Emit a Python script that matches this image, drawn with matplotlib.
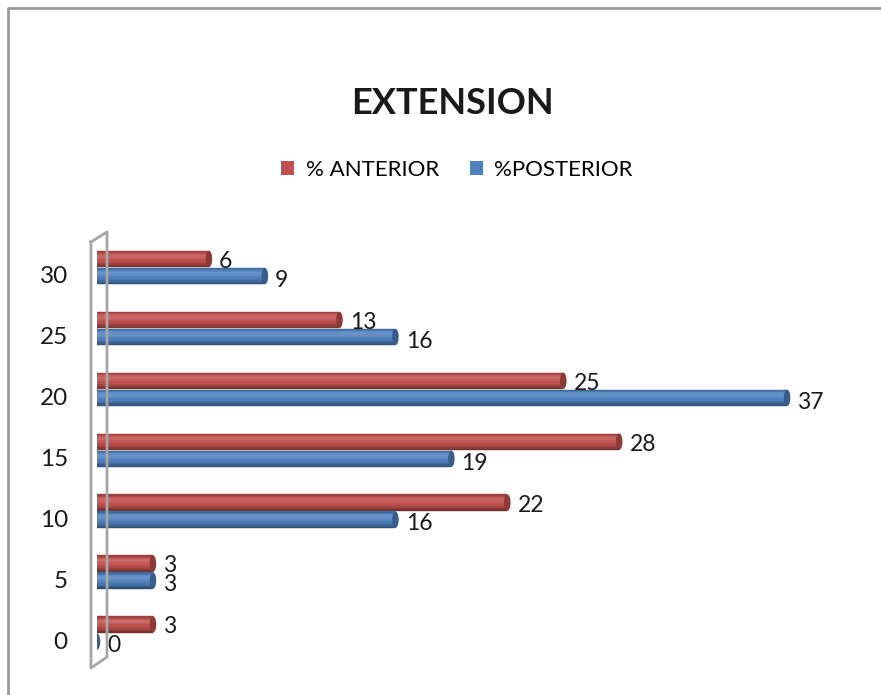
import matplotlib.pyplot as plt
import numpy as np
from matplotlib.patches import Ellipse, Patch
from matplotlib.lines import Line2D

categories = ["0", "5", "10", "15", "20", "25", "30"]
anterior = [3, 3, 22, 28, 25, 13, 6]
posterior = [0, 3, 16, 19, 37, 16, 9]
series_names = ["% ANTERIOR", "%POSTERIOR"]

RED = np.array([192, 80, 77]) / 255
BLUE = np.array([79, 129, 189]) / 255
W, H = 881, 695

plt.rcParams["font.family"] = ["Lato", "DejaVu Sans"]

fig = plt.figure(figsize=(W / 100, H / 100), dpi=100)
ax = fig.add_axes([97 / W, 1 - 669.5 / H, 746 / W, (669.5 - 231) / H])

# shading across the bar height, bottom -> top, to fake a cylinder
profile = [0.6, 0.72, 0.82, 0.9, 0.97, 1.0, 1.06, 1.12, 1.16, 1.1, 0.98, 0.82]
bar_h = 0.27
cap_w = 0.35


def shade(c, f):
    if f >= 1:
        return c + (1 - c) * (f - 1)
    return c * f


def cylinder(y, value, color):
    n = len(profile)
    dh = bar_h / n
    if value > 0:
        for k, f in enumerate(profile):
            col = shade(color, f)
            ax.barh(y - bar_h / 2 + dh * (k + 0.5), value, height=dh, left=0,
                    color=col, edgecolor=col, linewidth=0.3)
    ax.add_patch(Ellipse((value, y), cap_w, bar_h, facecolor=shade(color, 0.72),
                         edgecolor="none", zorder=3))


ypos = np.arange(len(categories))
for i in ypos:
    ya = i + 0.14
    yp = i - 0.14
    cylinder(ya, anterior[i], RED)
    cylinder(yp, posterior[i], BLUE)
    ax.text(anterior[i] + 0.55, ya - 0.04, str(anterior[i]), va="center",
            ha="left", fontsize=16.5, color="#1a1a1a")
    ax.text(posterior[i] + 0.55, yp - 0.07, str(posterior[i]), va="center",
            ha="left", fontsize=16.5, color="#1a1a1a")

ax.set_xlim(0, 40)
ax.set_ylim(-0.6, 6.6)
ax.set_yticks(ypos - 0.12)
ax.set_yticklabels(categories, fontsize=17.5, color="#1a1a1a")
ax.tick_params(axis="y", length=0, pad=21)
ax.set_xticks([])
for s in ax.spines.values():
    s.set_visible(False)
ax.patch.set_alpha(0)


def fig_line(xs, ys, **kw):
    fig.add_artist(Line2D([x / W for x in xs], [1 - y / H for y in ys],
                          transform=fig.transFigure, **kw))


# side wall of the 3d chart
wall = dict(color="#a6a6a6", linewidth=2)
fig_line([91, 91, 107, 107, 91], [242, 668, 657, 232, 242], **wall)
# outer chart border
fig_line([881, 8, 8], [8, 8, 695], color="#9a9a9a", linewidth=2)

fig.text(452 / W, 1 - 104 / H, "EXTENSION", ha="center", va="center",
         fontsize=26, fontweight="bold", color="#1a1a1a")

handles = [Patch(facecolor=RED), Patch(facecolor=BLUE)]
fig.legend(handles, series_names, loc="center", bbox_to_anchor=(457 / W, 1 - 170 / H),
           ncol=2, frameon=False, fontsize=16, handlelength=0.6, handleheight=0.6,
           handletextpad=0.5, columnspacing=1.4)

fig.savefig("out.png", dpi=100)
